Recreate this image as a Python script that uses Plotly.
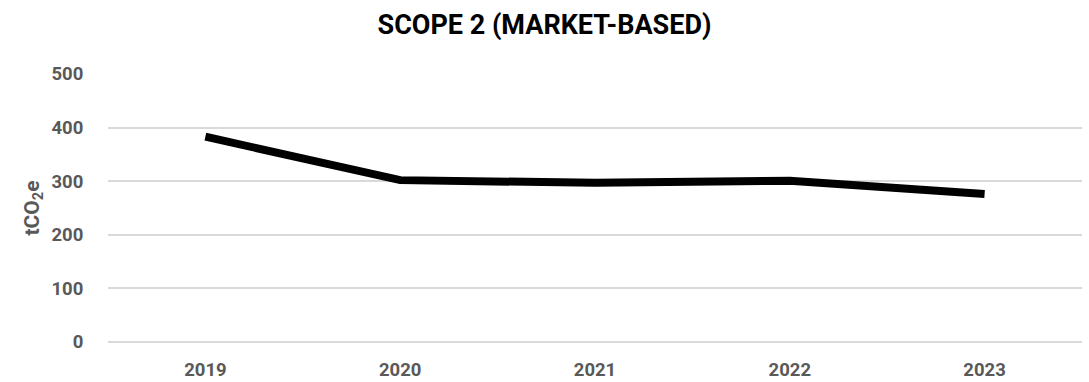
import plotly.graph_objects as go

years = ["2019", "2020", "2021", "2022", "2023"]
emissions = [383, 302, 297, 301, 276]
y_ticks = [0, 100, 200, 300, 400, 500]

FONT = "Roboto"

fig = go.Figure()
fig.add_trace(go.Scatter(
    x=years, y=emissions, mode="lines",
    line=dict(color="#000000", width=8),
    hoverinfo="skip",
))

fig.update_layout(
    width=1089, height=382,
    margin=dict(l=108, r=7, t=74, b=40),
    paper_bgcolor="white", plot_bgcolor="white",
    showlegend=False,
    title=dict(
        text="<b>SCOPE 2 (MARKET-BASED)</b>",
        x=0.5, xanchor="center", y=1 - 25 / 382, yanchor="middle",
        font=dict(family=FONT, size=27, color="#000000"),
    ),
)

fig.update_xaxes(
    type="category", range=[-0.5, 4.5], automargin=False,
    showgrid=False, zeroline=False, showline=False,
    ticks="outside", ticklen=11, tickcolor="rgba(0,0,0,0)",
    tickfont=dict(family=FONT, size=18.5, color="#595959", weight="bold"),
)

fig.update_yaxes(
    range=[0, 500], tickvals=y_ticks, automargin=False,
    showgrid=True, gridcolor="#d9d9d9", gridwidth=2,
    zeroline=True, zerolinecolor="#d9d9d9", zerolinewidth=2,
    showline=False,
    ticks="outside", ticklen=20, tickcolor="rgba(0,0,0,0)",
    tickfont=dict(family=FONT, size=18.5, color="#595959", weight="bold"),
    title=dict(text="tCO<sub>2</sub>e", standoff=6,
               font=dict(family=FONT, size=21, color="#595959", weight="bold")),
)

fig.write_html("out.html")
